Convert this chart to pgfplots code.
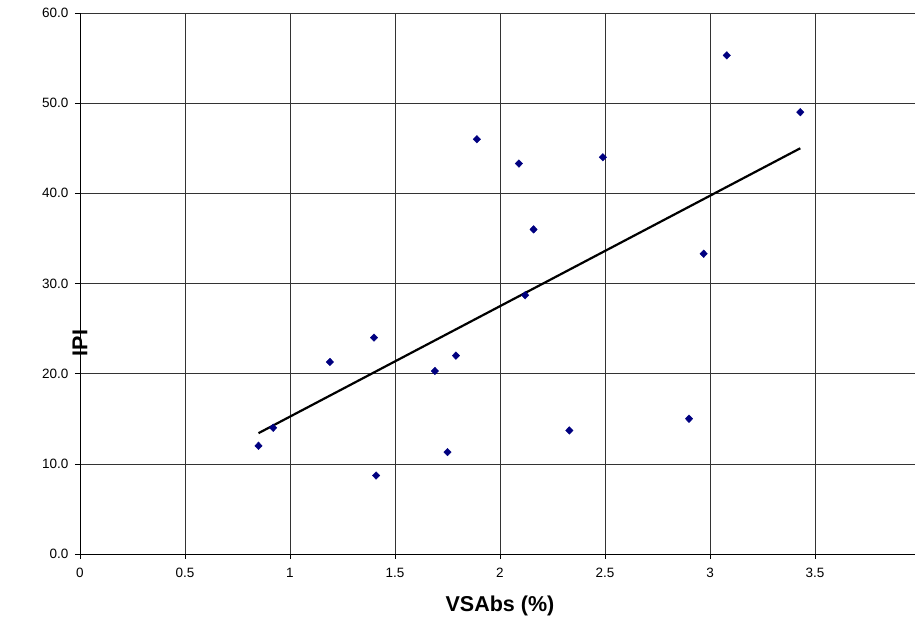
\documentclass[border=0pt]{standalone}
\usepackage{pgfplots}
\pgfplotsset{compat=1.18}
\usepackage{fontspec}
\setmainfont{Liberation Sans}
\usetikzlibrary{calc}
\definecolor{navy}{HTML}{000080}
\begin{document}
\begin{tikzpicture}
\begin{axis}[
  scale only axis,
  width=840pt, height=541pt,
  xmin=0, xmax=4, ymin=0, ymax=60,
  xtick={0,0.5,...,4}, ytick={0,10,...,60},
  /pgf/number format/assume math mode=true,
  yticklabel={\pgfmathprintnumber[fixed,fixed zerofill,precision=1]{\tick}},
  tick label style={font=\fontsize{13.5}{16}\selectfont, black},
  x tick label style={yshift=-6pt},
  y tick label style={xshift=-3pt},
  grid=major,
  major grid style={black!80, line width=0.6pt},
  axis line style={black, line width=0.8pt},
  axis x line*=bottom, axis y line*=left,
  tick align=outside, major tick length=5pt,
  tick style={black, line width=0.6pt},
  every axis y label/.style={at={(axis description cs:0,0.5)}, rotate=90, anchor=center, xshift=-59.5pt, font=\fontsize{21.5}{24}\selectfont\bfseries},
  every axis x label/.style={at={(axis description cs:0.5,0)}, anchor=center, yshift=-52pt, font=\fontsize{21.5}{24}\selectfont\bfseries},
  xlabel={VSAbs (\%)},
  ylabel={IPI},
  clip=false,
]
\addplot[only marks, mark=diamond*, mark size=3.8pt, color=navy, mark options={fill=navy, draw=navy, xscale=1.3, line width=0.4pt}] coordinates {
(0.85,12.0) (0.92,14.0) (1.19,21.3) (1.40,24.0) (1.41,8.7) (1.69,20.3)
(1.79,22.0) (1.75,11.3) (1.89,46.0) (2.09,43.3) (2.12,28.7) (2.16,36.0)
(2.33,13.7) (2.49,44.0) (2.90,15.0) (2.97,33.3) (3.08,55.3) (3.43,49.0)
};
\addplot[black, line width=2.2pt] coordinates {(0.85,13.4) (3.43,45.0)};
\end{axis}
\pgfresetboundingbox
\useasboundingbox ($(current axis.south west)+(-80pt,-68pt)$) rectangle ($(current axis.north west)+(835pt,13pt)$);
\end{tikzpicture}
\end{document}
